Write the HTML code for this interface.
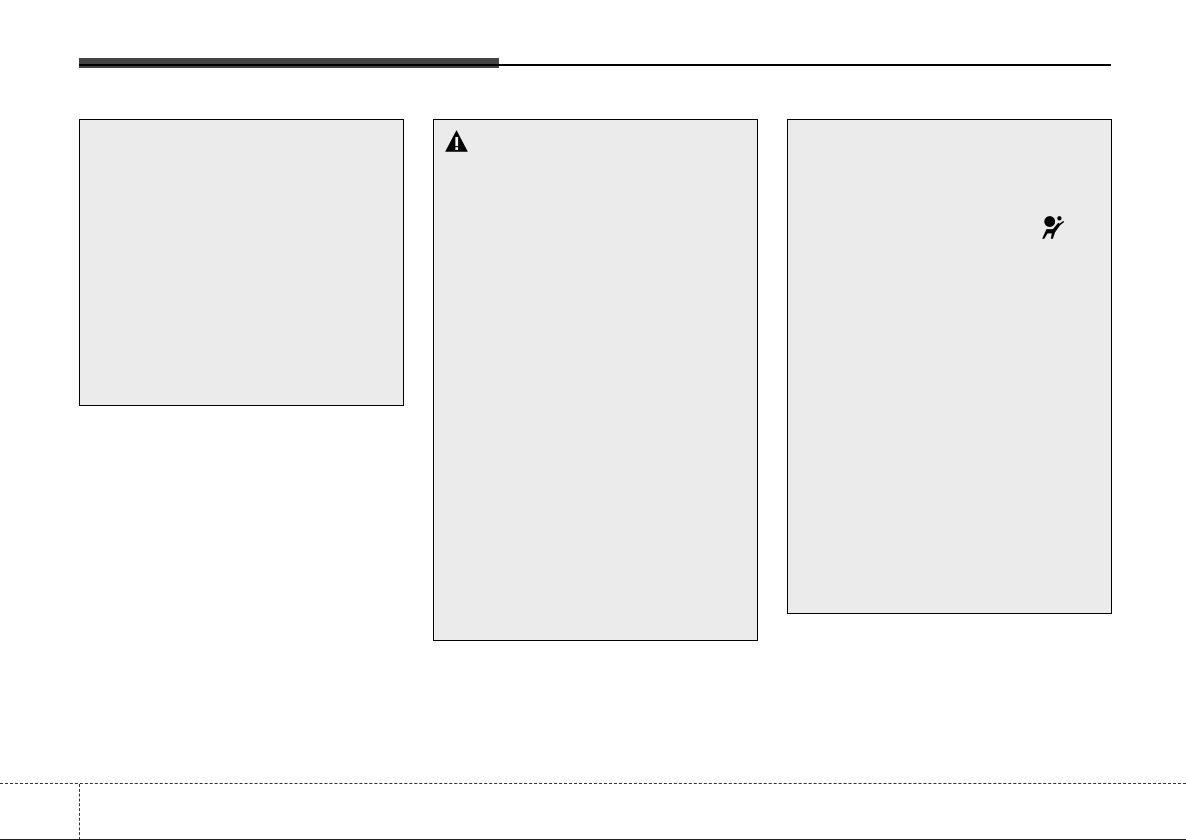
<!DOCTYPE html>
<html><head><style>
body{margin:0;width:1186px;height:840px;background:#fff;position:relative;overflow:hidden;font-family:"Liberation Sans",sans-serif}
.a{position:absolute}
.box{position:absolute;background:#ebebeb;border:1.5px solid #000;box-sizing:border-box}
</style></head><body>
<div class="a" style="left:79px;top:58px;width:420px;height:10px;background:#444"></div>
<div class="a" style="left:79px;top:64px;width:1032px;height:2px;background:#000"></div>
<div class="box" style="left:79px;top:119px;width:325px;height:287px"></div>
<div class="box" style="left:433px;top:119px;width:325px;height:522px"></div>
<div class="box" style="left:787px;top:119px;width:325px;height:495px"></div>
<svg class="a" style="left:444px;top:129px" width="25" height="25" viewBox="0 0 22 22"><polygon points="11,1 21,20 1,20" fill="#000"/><rect x="10" y="7" width="2.4" height="8" fill="#fff"/><rect x="10" y="16" width="2.4" height="2.4" fill="#fff"/></svg>
<svg class="a" style="left:1040px;top:215px" width="28" height="26" viewBox="0 0 26 24"><circle cx="9" cy="6" r="5" fill="#000"/><circle cx="18" cy="3" r="2" fill="#000"/><path d="M2 22 L6 13 L12 13 L17 7 L19 9 L14 16 L12 22 L10 22 L11 17 L7 17 L4 22Z" fill="#000"/><path d="M18 9 L22 6" stroke="#000" stroke-width="1.5"/></svg>
<div class="a" style="left:0;top:783px;width:1186px;border-top:1px dashed #333"></div>
<div class="a" style="left:79px;top:784px;height:56px;border-left:1px dashed #333"></div>
<div class="a" style="left:0;top:839px;width:1186px;height:1px;background:#222"></div>
</body></html>
